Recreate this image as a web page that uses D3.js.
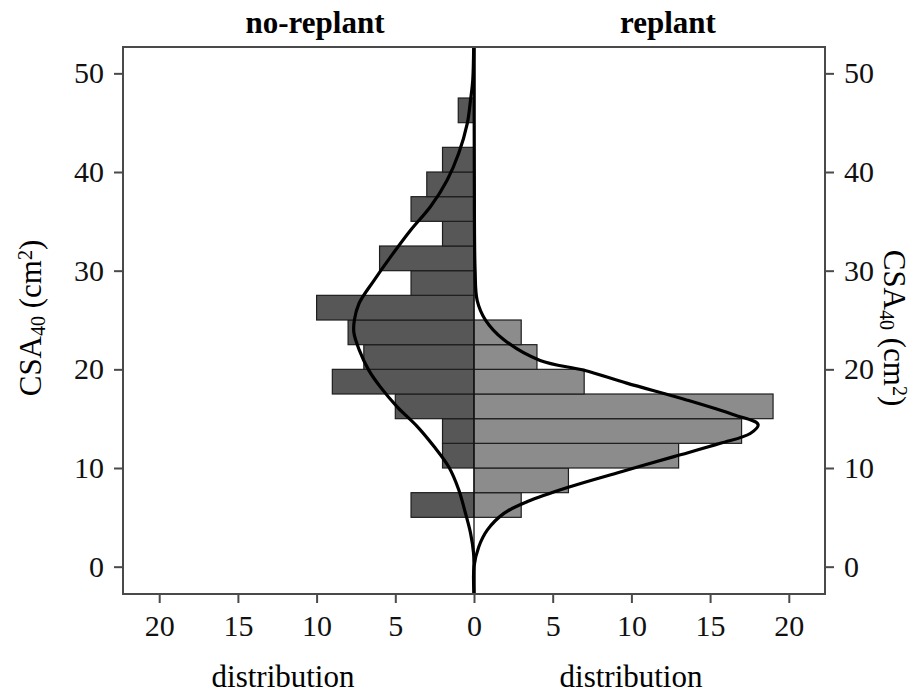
<!DOCTYPE html>
<html>
<head>
<meta charset="utf-8">
<script src="https://cdn.jsdelivr.net/npm/d3@7"></script>
<style>
  body { margin: 0; background: #fff; }
  text { font-family: "Liberation Serif", "DejaVu Serif", serif; }
</style>
</head>
<body>
<svg width="924" height="693"></svg>
<script>
// histogram bins (lower edge, width 2.5)
const binWidth = 2.5;
const leftBins = [5, 7.5, 10, 12.5, 15, 17.5, 20, 22.5, 25, 27.5, 30, 32.5, 35, 37.5, 40, 42.5, 45];
const leftCounts = [4, 0, 2, 2, 5, 9, 7, 8, 10, 4, 6, 2, 4, 3, 2, 0, 1];
const rightBins = [5, 7.5, 10, 12.5, 15, 17.5, 20, 22.5];
const rightCounts = [3, 6, 13, 17, 19, 7, 4, 3];

// fitted curves: [CSA40, distribution]
const leftCurve = [[-2.7,0],[0,0],[1.4,0.03],[3.4,0.22],[5.4,0.54],[7.8,0.97],[10.1,1.6],[12.2,2.55],
  [14.2,3.6],[16.2,4.88],[18.2,5.94],[19.9,6.68],[22,7.3],[23.7,7.63],[25,7.6],[26.7,7.3],[29,6.36],
  [31.4,5.3],[34.1,4.03],[36.5,2.76],[39.2,1.7],[41.9,0.97],[44.9,0.43],[47.3,0.22],[49.3,0.08],[52.7,0.02]];
const rightCurve = [[-2.7,0],[0,0],[2,0.3],[3.7,0.84],[5.4,1.9],[6.6,3.4],[8.1,6.1],[9.6,9.3],[11.15,12.7],
  [12.5,15.65],[13.5,17.55],[14.4,18.05],[15.4,16.5],[16.9,13.5],[18.6,9.7],[19.9,7.0],[20.9,4.2],
  [23,1.9],[25,0.73],[27,0.2],[30,0.07],[40,0.02],[52.7,0.01]];

const xTicks = [-20, -15, -10, -5, 0, 5, 10, 15, 20];
const yTicks = [0, 10, 20, 30, 40, 50];

const svg = d3.select("svg");
const plotLeft = 123, plotRight = 825, plotTop = 47, plotBottom = 594;

const x = d3.scaleLinear().domain([-22.3, 22.3]).range([plotLeft, plotRight]);
const y = d3.scaleLinear().domain([-2.77, 52.67]).range([plotBottom, plotTop]);

// bars
svg.append("g")
  .selectAll("rect")
  .data(leftBins.map((b, i) => ({lo: b, n: leftCounts[i]})).filter(d => d.n > 0))
  .join("rect")
    .attr("x", d => x(-d.n))
    .attr("y", d => y(d.lo + binWidth))
    .attr("width", d => x(0) - x(-d.n))
    .attr("height", d => y(d.lo) - y(d.lo + binWidth))
    .attr("fill", "#575757")
    .attr("stroke", "#1e1e1e")
    .attr("stroke-width", 1.2);

svg.append("g")
  .selectAll("rect")
  .data(rightBins.map((b, i) => ({lo: b, n: rightCounts[i]})))
  .join("rect")
    .attr("x", x(0))
    .attr("y", d => y(d.lo + binWidth))
    .attr("width", d => x(d.n) - x(0))
    .attr("height", d => y(d.lo) - y(d.lo + binWidth))
    .attr("fill", "#8c8c8c")
    .attr("stroke", "#1e1e1e")
    .attr("stroke-width", 1.2);

// centre line
svg.append("line")
  .attr("x1", x(0)).attr("x2", x(0))
  .attr("y1", plotTop).attr("y2", plotBottom)
  .attr("stroke", "#111").attr("stroke-width", 1.3);

// curves
const curveL = d3.line().x(d => x(-d[1])).y(d => y(d[0])).curve(d3.curveCatmullRom.alpha(0.5));
const curveR = d3.line().x(d => x(d[1])).y(d => y(d[0])).curve(d3.curveCatmullRom.alpha(0.5));
svg.append("path").attr("d", curveL(leftCurve))
  .attr("fill", "none").attr("stroke", "#000").attr("stroke-width", 3.2);
svg.append("path").attr("d", curveR(rightCurve))
  .attr("fill", "none").attr("stroke", "#000").attr("stroke-width", 3.2);

// frame
svg.append("rect")
  .attr("x", plotLeft).attr("y", plotTop)
  .attr("width", plotRight - plotLeft).attr("height", plotBottom - plotTop)
  .attr("fill", "none").attr("stroke", "#4a4a4a").attr("stroke-width", 2);

// axes
const styleAxis = g => {
  g.select(".domain").remove();
  g.selectAll(".tick line").attr("stroke", "#4a4a4a").attr("stroke-width", 2);
  g.selectAll(".tick text").attr("fill", "#111")
    .style("font-size", "30px").style("font-family", "'Liberation Serif', serif");
};

svg.append("g")
  .attr("transform", `translate(0,${plotBottom})`)
  .call(d3.axisBottom(x).tickValues(xTicks).tickFormat(d => Math.abs(d)).tickSize(9).tickPadding(12))
  .call(styleAxis);

svg.append("g")
  .attr("transform", `translate(${plotLeft},0)`)
  .call(d3.axisLeft(y).tickValues(yTicks).tickSize(9).tickPadding(10))
  .call(styleAxis);

svg.append("g")
  .attr("transform", `translate(${plotRight},0)`)
  .call(d3.axisRight(y).tickValues(yTicks).tickSize(9).tickPadding(10))
  .call(styleAxis);

// titles
svg.append("text").attr("x", 315).attr("y", 33)
  .attr("text-anchor", "middle").style("font-size", "31px").style("font-weight", "bold")
  .text("no-replant");
svg.append("text").attr("x", 668).attr("y", 33)
  .attr("text-anchor", "middle").style("font-size", "31px").style("font-weight", "bold")
  .text("replant");

// x labels
svg.append("text").attr("x", 283).attr("y", 687)
  .attr("text-anchor", "middle").style("font-size", "31px").text("distribution");
svg.append("text").attr("x", 631).attr("y", 687)
  .attr("text-anchor", "middle").style("font-size", "31px").text("distribution");

// y labels
function csaLabel(t) {
  t.append("tspan").text("CSA");
  t.append("tspan").text("40").attr("baseline-shift", "-22%").style("font-size", "20px");
  t.append("tspan").text(" (cm");
  t.append("tspan").text("2").attr("baseline-shift", "45%").style("font-size", "20px");
  t.append("tspan").text(")");
}
svg.append("text")
  .attr("transform", "translate(41,318) rotate(-90)")
  .attr("text-anchor", "middle").style("font-size", "31px")
  .call(csaLabel);
svg.append("text")
  .attr("transform", "translate(884,328) rotate(90)")
  .attr("text-anchor", "middle").style("font-size", "31px")
  .call(csaLabel);
</script>
</body>
</html>
